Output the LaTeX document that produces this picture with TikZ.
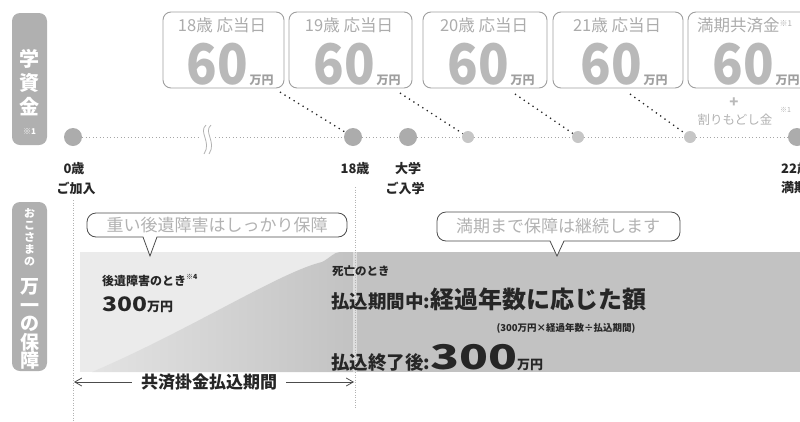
\documentclass[tikz,border=0pt]{standalone}
\usepackage{fontspec}
\usepackage{graphicx}
\setmainfont{Noto Sans CJK JP}
\usetikzlibrary{arrows.meta,calc}
\newcommand{\jfs}[1]{\fontsize{#1}{#1}\selectfont}
\newcommand{\sixty}{{\color{gray!55}\jfs{56}\bfseries\scalebox{0.9}[1]{60}}{\color{gray!75}\jfs{12}\bfseries\,万円}}
\definecolor{ink}{gray}{0.15}
\begin{document}
\begin{tikzpicture}[x=1pt,y=-1pt,
  topbox/.style={draw=gray!75, line width=0.9pt, rounded corners=8pt, fill=white, minimum width=#1, minimum height=76pt, inner sep=0pt},
  ttl/.style={text=gray!65, font=\jfs{16.5}, inner sep=0pt},
  val/.style={anchor=base, inner sep=0pt},
  bigdot/.style={circle, fill=gray!65, minimum size=18pt, inner sep=0pt},
  smalldot/.style={circle, fill=gray!45, minimum size=12pt, inner sep=0pt},
  tl/.style={gray!70, line width=1pt, dash pattern=on 1pt off 2.5pt},
  dotcon/.style={gray!30!black, line width=1.3pt, dash pattern=on 1.3pt off 4pt},
  vline/.style={gray!60, line width=0.9pt, dash pattern=on 1pt off 1.5pt},
  lbl/.style={text=ink, font=\bfseries\jfs{13}, inner sep=0pt},
  sidebar/.style={fill=gray!62, rounded corners=8pt, minimum width=35pt, inner sep=0pt},
  callout/.style={draw=gray!60!black, line width=0.8pt, fill=white},
  calltext/.style={text=gray!60, font=\jfs{17}, inner sep=0pt},
  body/.style={text=ink, inner sep=0pt},
  arr/.style={gray!60!black, line width=0.8pt, -{Straight Barb[length=7pt,width=8pt]}}
]
\useasboundingbox (0,0) rectangle (800,421);
\clip (0,0) rectangle (800,421);

% side bars
\node[sidebar, minimum height=132pt] (bar1) at (29.5,79) {};
\node[text=white, font=\bfseries\fontsize{20}{24}\selectfont, align=center, inner sep=0pt] (bar1t) at (29.5,92)
  {学\\資\\金\\[-4pt]{\jfs{8}※1}};
\node[sidebar, minimum height=169pt] (bar2) at (29.5,286.5) {};
\node[text=white, font=\bfseries\fontsize{11}{12}\selectfont, align=center, inner sep=0pt] (bar2s) at (29.5,237)
  {お\\こ\\さ\\ま\\の};
\node[text=white, font=\bfseries\fontsize{19}{18.5}\selectfont, align=center, inner sep=0pt] (bar2l) at (29.5,324)
  {万\\一\\の\\保\\障};

% top boxes
\node[topbox=121pt] (b1) at (223.5,50) {};
\node[topbox=123pt] (b2) at (350.5,50) {};
\node[topbox=124pt] (b3) at (485,50) {};
\node[topbox=130pt] (b4) at (618,50) {};
\node[topbox=122pt] (b5) at (749,50) {};
\node[ttl] (t1) at (222,25.5) {18歳 応当日};
\node[ttl] (t2) at (349,25.5) {19歳 応当日};
\node[ttl] (t3) at (484,25.5) {20歳 応当日};
\node[ttl] (t4) at (617,25.5) {21歳 応当日};
\node[ttl, anchor=west] (t5) at (697,25.5) {満期共済金\raisebox{5pt}{\jfs{8}※1}};
\node[val] (v1) at (230,84) {\sixty};
\node[val] (v2) at (357,84) {\sixty};
\node[val] (v3) at (491,84) {\sixty};
\node[val] (v4) at (624,84) {\sixty};
\node[val] (v5) at (756,84) {\sixty};

% lower shaded band
\fill[gray!16] (80,252) rectangle (800,372);
\shade[left color=gray!22, right color=gray!48]
  (92,372) .. controls (190,330) and (280,272) .. (322,262)
  .. controls (330,258) and (334,252) .. (340,252) -- (356,252) -- (356,372) -- cycle;
\fill[gray!48] (355,252) rectangle (800,372);
\fill[white, opacity=0.45] (353,252) rectangle (357,372);

% vertical guide lines
\coordinate (g0t) at (73,200); \coordinate (g0b) at (73,421);
\coordinate (g18t) at (355,187); \coordinate (g18b) at (355,408);
\draw[vline] (g0t) -- (g0b);
\draw[vline] (g18t) -- (g18b);

% timeline
\node[bigdot] (d0) at (73,137) {};
\node[bigdot] (d18) at (353,137) {};
\node[bigdot] (duni) at (408,137) {};
\node[smalldot] (d19) at (468,137) {};
\node[smalldot] (d20) at (578,137) {};
\node[smalldot] (d21) at (690,137) {};
\node[bigdot] (d22) at (797,137) {};
\coordinate (brkL) at (201,137);
\coordinate (brkR) at (215,137);
\draw[tl] (d0) -- (brkL);
\draw[tl] (brkR) -- (d18);
\draw[tl] (d18) -- (duni);
\draw[tl] (duni) -- (d19);
\draw[tl] (d19) -- (d20);
\draw[tl] (d20) -- (d21);
\draw[tl] (d21) -- (d22);
\draw[gray!60, line width=0.8pt] (206,125) .. controls (198,132) and (212,142) .. (204,154);
\draw[gray!60, line width=0.8pt] (211,125) .. controls (203,132) and (217,142) .. (209,154);

% connectors from boxes
\coordinate (c1) at (280,92);
\coordinate (c2) at (400,93);
\coordinate (c3) at (515,94);
\coordinate (c4) at (630,94);
\draw[dotcon] (c1) -- (d18);
\draw[dotcon] (c2) -- (d19);
\draw[dotcon] (c3) -- (d20);
\draw[dotcon] (c4) -- (d21);

\node[text=gray!55, font=\bfseries\jfs{15}, inner sep=0pt] (plus) at (734,103) {+};
\node[text=gray!60, font=\jfs{12.5}, inner sep=0pt] (wari) at (735,120) {割りもどし金};
\node[text=gray!60, font=\jfs{7}, inner sep=0pt, anchor=west] (warin) at (780,110) {※1};

% timeline labels
\node[lbl] (l0a) at (74,169) {0歳};
\node[lbl] (l0b) at (76,188) {ご加入};
\node[lbl] (l18) at (355,169) {18歳};
\node[lbl] (lua) at (408,169) {大学};
\node[lbl] (lub) at (405,188) {ご入学};
\node[lbl, anchor=west] (l22a) at (781,169) {22歳};
\node[lbl, anchor=west] (l22b) at (781,188) {満期};

% callouts
\path[callout] (150,256) -- (157,237) [rounded corners=9pt] -- (347,237) -- (347,213) -- (87,213) -- (87,237) [sharp corners] -- (143,237) -- cycle;
\node[calltext] (co1) at (217,225) {重い後遺障害はしっかり保障};
\path[callout] (557,256) -- (564,241) [rounded corners=9pt] -- (680,241) -- (680,212) -- (437,212) -- (437,241) [sharp corners] -- (550,241) -- cycle;
\node[calltext] (co2) at (558,226) {満期まで保障は継続します};

% band texts
\node[body, anchor=west, font=\bfseries\jfs{12}] (kz) at (102,281) {後遺障害のとき\raisebox{6pt}{\jfs{7}※4}};
\node[body, anchor=base west] (kz300) at (102,311) {\bfseries\jfs{20}\scalebox{1.23}[1]{300}\jfs{13}万円};
\node[body, anchor=west, font=\bfseries\jfs{11.5}] (sb) at (332,271) {死亡のとき};
\node[body, anchor=base west] (sb1) at (331,308) {\bfseries{\jfs{18.5}払込期間中:}{\jfs{24}経過年数に応じた額}};
\node[body, font=\bfseries\jfs{9.5}] (sb2) at (566,328) {(300万円×経過年数÷払込期間)};
\node[body, anchor=base west] (sb3) at (331,369) {\bfseries{\jfs{18.5}払込終了後:}{\jfs{34}\scalebox{1.4}[1]{300}}{\jfs{13}万円}};

% payment period arrow
\node[body, font=\bfseries\jfs{17}, inner xsep=9pt] (kp) at (209,382) {共済掛金払込期間};
\coordinate (a0) at (74,382);
\coordinate (a18) at (354,382);
\draw[arr] (kp.west) -- (a0);
\draw[arr] (kp.east) -- (a18);
\end{tikzpicture}
\end{document}
